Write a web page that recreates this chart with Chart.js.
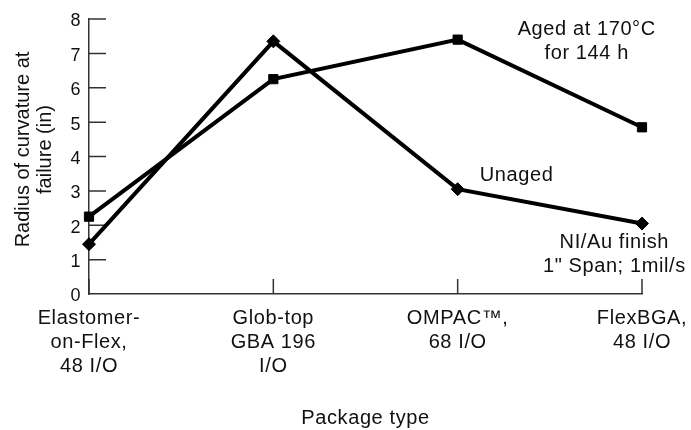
<!DOCTYPE html>
<html>
<head>
<meta charset="utf-8">
<script src="https://cdn.jsdelivr.net/npm/chart.js@4"></script>
<style>
    body { margin: 0; background: #fff; }
    #wrap { width: 691px; height: 430px; position: relative; }
</style>
</head>
<body>
<div id="wrap"><canvas id="curvatureChart"></canvas></div>
<script>
// Package types along the x axis (multi-line labels)
const packageTypes = [
    ["Elastomer-", "on-Flex,", "48 I/O"],
    ["Glob-top", "GBA 196", "I/O"],
    ["OMPAC\u2122,", "68 I/O"],
    ["FlexBGA,", "48 I/O"]
];

// Radius of curvature at failure (in)
const agedRadius = [2.25, 6.25, 7.4, 4.85];
const unagedRadius = [1.45, 7.35, 3.05, 2.05];

// Y axis range
const yTicks = [0, 1, 2, 3, 4, 5, 6, 7, 8];

const yTitle = ["Radius of curvature at", "failure (in)"];

const fontFamily = "'Liberation Sans', Arial, Helvetica, sans-serif";
const textColor = "#111";
const axisColor = "#333";
const wideText = "0.6px";

// Notes placed next to the curves: [text lines, x index, y value]
const notes = [
    [["Aged at 170\u00b0C", "for 144 h"], 2.7, 7.7],
    [["Unaged"], 2.32, 3.44],
    [["NI/Au finish", "1\" Span; 1mil/s"], 2.85, 1.5]
];

// Slightly spaced-out lettering for the horizontal text
const textSpacing = {
    id: "textSpacing",
    beforeLayout(chart) { chart.ctx.letterSpacing = wideText; },
    beforeDraw(chart) { chart.ctx.letterSpacing = wideText; }
};

// Short tick marks pointing into the plot area
const innerTicks = {
    id: "innerTicks",
    beforeDatasetsDraw(chart) {
        const { ctx, chartArea, scales } = chart;
        ctx.save();
        ctx.strokeStyle = axisColor;
        ctx.lineWidth = 1.5;
        ctx.beginPath();
        yTicks.forEach((v) => {
            if (v === 0) return;
            const y = scales.y.getPixelForValue(v);
            ctx.moveTo(chartArea.left, y);
            ctx.lineTo(chartArea.left + 17, y);
        });
        packageTypes.forEach((_, i) => {
            const x = scales.x.getPixelForValue(i);
            ctx.moveTo(x, chartArea.bottom);
            ctx.lineTo(x, chartArea.bottom - 15);
        });
        ctx.stroke();
        ctx.restore();
    }
};

// Curve notes and the rotated y axis title
const textLabels = {
    id: "textLabels",
    afterDraw(chart) {
        const { ctx, scales, chartArea } = chart;
        ctx.save();
        ctx.fillStyle = textColor;
        ctx.font = "20px " + fontFamily;
        ctx.textAlign = "center";
        ctx.textBaseline = "middle";
        ctx.letterSpacing = wideText;
        notes.forEach(([lines, xi, yv]) => {
            const x = scales.x.getPixelForValue(xi);
            const y = scales.y.getPixelForValue(yv);
            lines.forEach((line, k) => {
                ctx.fillText(line, x, y + k * 24);
            });
        });

        ctx.letterSpacing = "0px";
        const cy = (chartArea.top + chartArea.bottom) / 2 - 7;
        yTitle.forEach((line, k) => {
            ctx.save();
            ctx.translate(23 + k * 22, cy);
            ctx.rotate(-Math.PI / 2);
            ctx.fillText(line, 0, 0);
            ctx.restore();
        });
        ctx.restore();
    }
};

const ctx = document.getElementById("curvatureChart").getContext("2d");
new Chart(ctx, {
    type: "line",
    data: {
        labels: packageTypes,
        datasets: [
            {
                label: "Aged at 170\u00b0C for 144 h",
                data: agedRadius,
                borderColor: "#000",
                backgroundColor: "#000",
                borderWidth: 4,
                pointStyle: "rect",
                pointRadius: 6.5,
                pointBorderWidth: 1,
                tension: 0
            },
            {
                label: "Unaged",
                data: unagedRadius,
                borderColor: "#000",
                backgroundColor: "#000",
                borderWidth: 4,
                pointStyle: "rectRot",
                pointRadius: 6.5,
                pointBorderWidth: 1,
                tension: 0
            }
        ]
    },
    options: {
        responsive: true,
        maintainAspectRatio: false,
        animation: false,
        layout: { padding: { top: 19, right: 49, left: 0, bottom: 0 } },
        plugins: {
            legend: { display: false },
            tooltip: { enabled: false }
        },
        scales: {
            x: {
                offset: false,
                grid: { display: false, drawTicks: false },
                border: { color: axisColor, width: 1.5 },
                ticks: {
                    color: textColor,
                    padding: 12,
                    maxRotation: 0,
                    autoSkip: false,
                    font: { family: fontFamily, size: 20, lineHeight: 1.2 }
                },
                title: {
                    display: true,
                    text: "Package type",
                    color: textColor,
                    padding: { top: 4, bottom: 0 },
                    font: { family: fontFamily, size: 20 }
                },
                afterFit(scale) {
                    scale.height = 136;
                    scale.paddingLeft = 0;
                    scale.paddingRight = 0;
                }
            },
            y: {
                min: 0,
                max: 8,
                grid: { display: false, drawTicks: false },
                border: { color: axisColor, width: 1.5 },
                ticks: {
                    stepSize: 1,
                    color: textColor,
                    padding: 8,
                    labelOffset: 2.5,
                    font: { family: fontFamily, size: 18 }
                },
                afterFit(scale) {
                    scale.width = 89;
                    scale.paddingTop = 0;
                    scale.paddingBottom = 0;
                }
            }
        }
    },
    plugins: [textSpacing, innerTicks, textLabels]
});
</script>
</body>
</html>
